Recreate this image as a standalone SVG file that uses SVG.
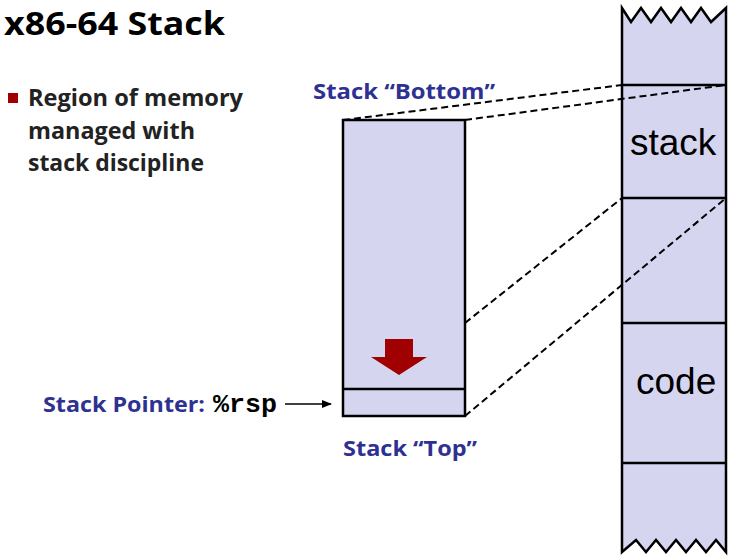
<svg xmlns="http://www.w3.org/2000/svg" width="734" height="558" viewBox="0 0 734 558">
<style>
.sh{fill:#d5d5f0;stroke:#000;stroke-width:2.5}
.ln{stroke:#000;stroke-width:2.5}
.ds{stroke:#000;stroke-width:2;stroke-dasharray:7,4;fill:none}
.b{font-family:"Open Sans","Liberation Sans",sans-serif;font-weight:bold}
.lb{fill:#2e3192;font-size:22px}
</style>
<defs><marker id="ah" markerWidth="10" markerHeight="8" refX="9" refY="4" orient="auto" markerUnits="userSpaceOnUse"><path d="M0,0L10,4L0,8z"/></marker></defs>
<text x="4" y="35" class="b" font-size="33" textLength="221" lengthAdjust="spacingAndGlyphs">x86-64 Stack</text>
<rect x="8" y="93" width="10" height="10" fill="#a00000"/>
<g class="b" font-size="23" fill="#222">
<text x="28" y="106" textLength="215" lengthAdjust="spacingAndGlyphs">Region of memory</text>
<text x="28" y="139" textLength="167" lengthAdjust="spacingAndGlyphs">managed with</text>
<text x="28" y="171" textLength="176" lengthAdjust="spacingAndGlyphs">stack discipline</text>
</g>
<g id="memory">
<path class="sh" d="M622,8L631,22L641,8L651,22L661,8L671,22L681,8L691,22L701,8L711,22L726,8L726,552L716,540L706,552L696,540L686,552L676,540L666,552L656,540L646,552L636,540L622,552Z"/>
<line class="ln" x1="622" y1="85" x2="726" y2="85"/>
<line class="ln" x1="622" y1="198" x2="726" y2="198"/>
<line class="ln" x1="622" y1="323" x2="726" y2="323"/>
<line class="ln" x1="622" y1="463" x2="726" y2="463"/>
<text x="630" y="155" font-family="Liberation Sans,sans-serif" font-size="37">stack</text>
<text x="636" y="394" font-family="Liberation Sans,sans-serif" font-size="37">code</text>
</g>
<g id="stack">
<rect class="sh" x="343" y="120" width="122" height="296"/>
<line class="ln" x1="343" y1="389" x2="465" y2="389"/>
<path d="M385,339H413V357H427L399,375L371,357H385Z" fill="#a00000"/>
</g>
<g id="connectors">
<line class="ds" x1="343" y1="120" x2="622" y2="85"/>
<line class="ds" x1="465" y1="120" x2="726" y2="85"/>
<line class="ds" x1="465" y1="323" x2="622" y2="198"/>
<line class="ds" x1="465" y1="416" x2="726" y2="198"/>
<line x1="285" y1="404" x2="331" y2="404" stroke="#000" stroke-width="1.5" marker-end="url(#ah)"/>
</g>
<text x="313" y="99" class="b lb" textLength="182" lengthAdjust="spacingAndGlyphs">Stack “Bottom”</text>
<text x="343" y="456" class="b lb" textLength="134" lengthAdjust="spacingAndGlyphs">Stack “Top”</text>
<text x="43" y="412" class="b lb" textLength="162" lengthAdjust="spacingAndGlyphs">Stack Pointer:</text>
<text x="213" y="412" fill="#000" font-family="Liberation Mono,monospace" font-weight="bold" font-size="26" textLength="64" lengthAdjust="spacingAndGlyphs">%rsp</text>
</svg>
